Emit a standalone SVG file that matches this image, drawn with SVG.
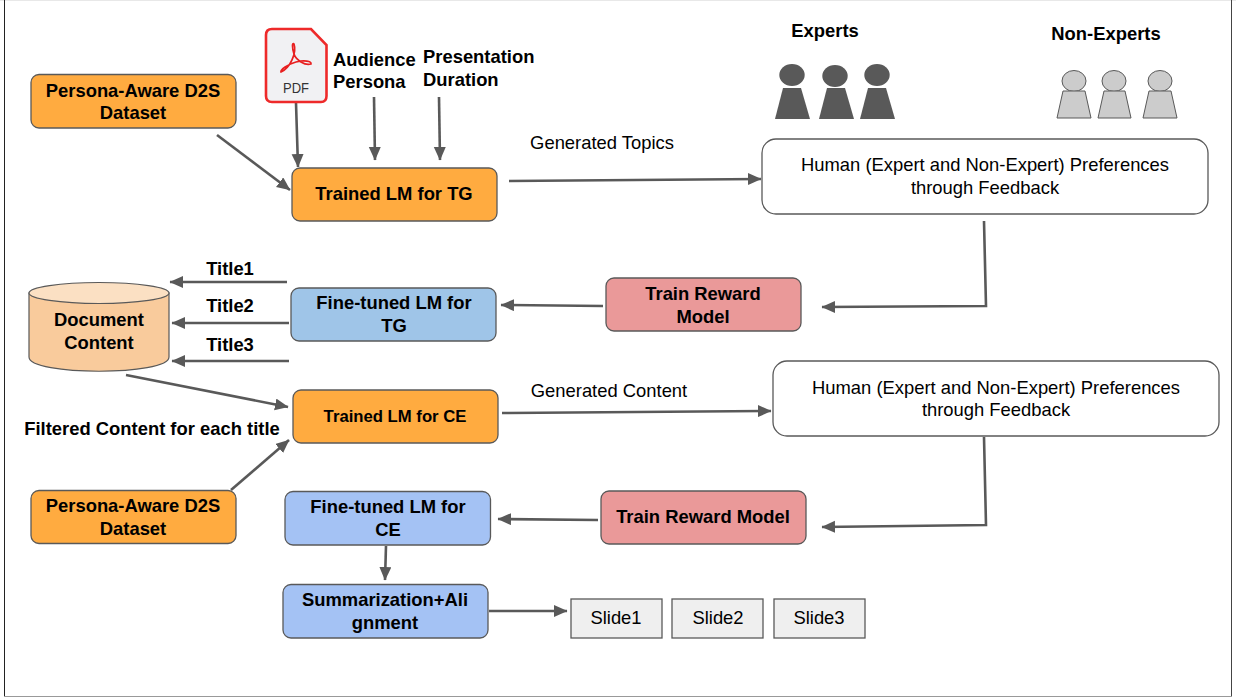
<svg xmlns="http://www.w3.org/2000/svg" width="1236" height="697" viewBox="0 0 1236 697">
<style>
text{font-family:"Liberation Sans",Arial,sans-serif;fill:#000;text-anchor:middle}
.b{font-weight:700;font-size:18.4px}
.r{font-size:18.4px}
.s{font-weight:700;font-size:18.4px}
.box{stroke:#595959;stroke-width:1.3}
.or{fill:#ffab40}.bl{fill:#9fc5e8}.bl2{fill:#a4c2f4}.rd{fill:#ea9999}.wh{fill:#fff}.gy{fill:#efefef}
.c{fill:none;stroke:#595959;stroke-width:2.6}
.dk{fill:#595959}
.lt{fill:#cccccc;stroke:#595959;stroke-width:1}
</style>
<defs>
<marker id="a" markerUnits="userSpaceOnUse" markerWidth="16" markerHeight="14" refX="13" refY="6" orient="auto"><path d="M0,0L13.500,6L0,12Z" fill="#595959"/></marker>
</defs>
<rect width="1236" height="697" fill="#fff"/>
<path d="M0,0.500H1236" fill="none" stroke="#e8e8e8" stroke-width="1"/>
<path d="M4.500,0V696" fill="none" stroke="#222" stroke-width="1"/>
<path d="M4,696.500H1232" fill="none" stroke="#999" stroke-width="1"/>
<path d="M1231.500,0V696" fill="none" stroke="#444" stroke-width="1"/>
<g id="connectors">
<path class="c" marker-end="url(#a)" d="M217,135L290,190"/>
<path class="c" marker-end="url(#a)" d="M296,103L298,167"/>
<path class="c" marker-end="url(#a)" d="M374,97L375,160"/>
<path class="c" marker-end="url(#a)" d="M439,97L440,160"/>
<path class="c" marker-end="url(#a)" d="M509,181L761,179"/>
<path class="c" marker-end="url(#a)" d="M984,221L986,306L822,307"/>
<path class="c" marker-end="url(#a)" d="M603,306L501,305"/>
<path class="c" marker-end="url(#a)" d="M287,282L170,282"/>
<path class="c" marker-end="url(#a)" d="M289,323L172,323"/>
<path class="c" marker-end="url(#a)" d="M289,361L172,361"/>
<path class="c" marker-end="url(#a)" d="M126,375L288,407"/>
<path class="c" marker-end="url(#a)" d="M231,490L289,440"/>
<path class="c" marker-end="url(#a)" d="M502,413L771,411"/>
<path class="c" marker-end="url(#a)" d="M984,437L986,525L822,527"/>
<path class="c" marker-end="url(#a)" d="M598,520L498,519"/>
<path class="c" marker-end="url(#a)" d="M386,546L385,580"/>
<path class="c" marker-end="url(#a)" d="M489,611L567,611"/>
</g>
<g id="dataset1"><rect class="box or" x="31" y="74.500" width="205" height="53.500" rx="8"/><text class="b" x="133" y="97">Persona-Aware D2S</text><text class="b" x="133" y="119">Dataset</text></g>
<g id="pdf"><path d="M272,29H311L326.500,45V96Q326.500,102 321,102H272Q266,102 266,96V35Q266,29 272,29Z" fill="#f1f1f3" stroke="#ee2a2a" stroke-width="2.600"/>
<path d="M281,72C290,68 297,53 294,44C292,42 292,47 294,54C296,60 305,66 311,64C312,61 304,60 296,62C288,64 280,70 281,72Z" fill="none" stroke="#e82020" stroke-width="1.700"/>
<text x="296" y="93" textLength="26" lengthAdjust="spacingAndGlyphs" style="font-size:15px;fill:#333">PDF</text></g>
<g id="audience"><text class="b" x="333" y="66" style="text-anchor:start">Audience</text><text class="b" x="333" y="88" style="text-anchor:start">Persona</text></g>
<g id="duration"><text class="b" x="423" y="63" style="text-anchor:start">Presentation</text><text class="b" x="423" y="86" style="text-anchor:start">Duration</text></g>
<g id="lm-tg"><rect class="box or" x="292" y="168" width="205" height="53" rx="8"/><text class="b" x="394" y="200">Trained LM for TG</text></g>
<g id="topics-label"><text class="r" x="602" y="149">Generated Topics</text></g>
<g id="feedback1"><rect class="box wh" x="762" y="139" width="446" height="75" rx="14"/><text class="r" x="985" y="171">Human (Expert and Non-Expert) Preferences</text><text class="r" x="985" y="194">through Feedback</text></g>
<g id="experts"><text class="s" x="825" y="37">Experts</text>
<ellipse class="dk" cx="792" cy="75" rx="12.700" ry="11"/><path class="dk" d="M783,88H801L810,119H775Z"/>
<ellipse class="dk" cx="835" cy="76" rx="12.700" ry="11"/><path class="dk" d="M827,88H845L854,119H819Z"/>
<ellipse class="dk" cx="877" cy="75" rx="12.700" ry="11"/><path class="dk" d="M868,88H886L895,119H860Z"/></g>
<g id="nonexperts"><text class="s" x="1106" y="40">Non-Experts</text>
<ellipse class="lt" cx="1074" cy="81" rx="12" ry="10.500"/><path class="lt" d="M1063,91H1085L1091,118H1057Z"/>
<ellipse class="lt" cx="1114" cy="81" rx="12" ry="10.500"/><path class="lt" d="M1104,91H1125L1131,118H1098Z"/>
<ellipse class="lt" cx="1160" cy="81" rx="12" ry="10.500"/><path class="lt" d="M1149,91H1171L1177,118H1143Z"/></g>
<g id="title-labels"><text class="s" x="230" y="275">Title1</text><text class="s" x="230" y="312">Title2</text><text class="s" x="230" y="351">Title3</text></g>
<g id="document"><path d="M29,293V357C29,376 169,376 169,357V293Z" fill="#f9cb9c" stroke="#595959" stroke-width="1.200"/><ellipse cx="99" cy="293" rx="70" ry="10.500" fill="#fbe0c3" stroke="#595959" stroke-width="1.200"/><text class="b" x="99" y="326">Document</text><text class="b" x="99" y="349">Content</text></g>
<g id="ft-tg"><rect class="box bl" x="291" y="288" width="205" height="53" rx="8"/><text class="b" x="394" y="309">Fine-tuned LM for</text><text class="b" x="394" y="332">TG</text></g>
<g id="reward1"><rect class="box rd" x="606" y="278" width="195" height="53" rx="8"/><text class="b" x="703" y="300">Train Reward</text><text class="b" x="703" y="323">Model</text></g>
<g id="lm-ce"><rect class="box or" x="293" y="390" width="205" height="53" rx="8"/><text class="b" x="395" y="422" style="font-size:16.700px">Trained LM for CE</text></g>
<g id="content-label"><text class="r" x="609" y="397">Generated Content</text></g>
<g id="filter-label"><text class="s" x="152" y="435">Filtered Content for each title</text></g>
<g id="feedback2"><rect class="box wh" x="773" y="361" width="446" height="75" rx="14"/><text class="r" x="996" y="394">Human (Expert and Non-Expert) Preferences</text><text class="r" x="996" y="416">through Feedback</text></g>
<g id="dataset2"><rect class="box or" x="31" y="490.500" width="205" height="53" rx="8"/><text class="b" x="133" y="512">Persona-Aware D2S</text><text class="b" x="133" y="535">Dataset</text></g>
<g id="ft-ce"><rect class="box bl2" x="285" y="491.500" width="205.500" height="53.500" rx="8"/><text class="b" x="388" y="513">Fine-tuned LM for</text><text class="b" x="388" y="536">CE</text></g>
<g id="reward2"><rect class="box rd" x="601" y="491" width="205" height="53" rx="8"/><text class="b" x="703" y="523">Train Reward Model</text></g>
<g id="summ"><rect class="box bl2" x="283" y="584.500" width="205" height="53.500" rx="8"/><text class="b" x="385" y="606">Summarization+Ali</text><text class="b" x="385" y="629">gnment</text></g>
<g id="slide1"><rect class="box gy" x="571" y="599" width="91" height="39"/><text class="r" x="616" y="624">Slide1</text></g>
<g id="slide2"><rect class="box gy" x="672" y="599" width="91" height="39"/><text class="r" x="718" y="624">Slide2</text></g>
<g id="slide3"><rect class="box gy" x="774" y="599" width="91" height="39"/><text class="r" x="819" y="624">Slide3</text></g>
</svg>
